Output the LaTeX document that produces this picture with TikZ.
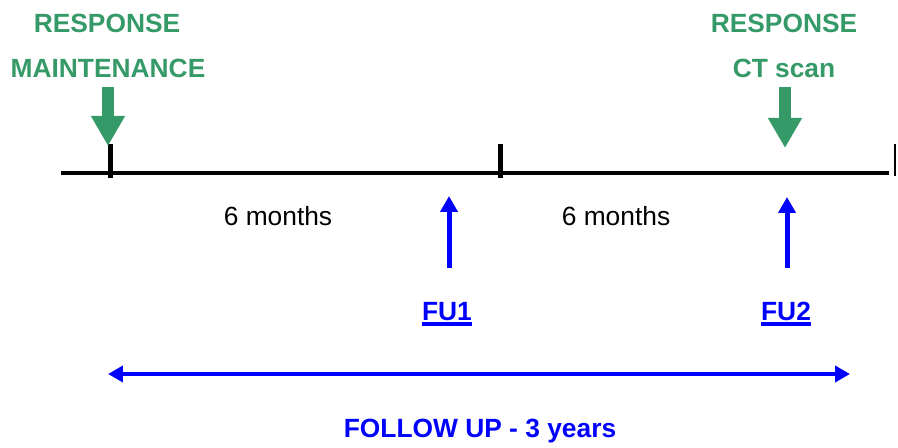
\documentclass[tikz,border=0pt]{standalone}
\usepackage{fontspec}
\setmainfont{Liberation Sans}
\usetikzlibrary{arrows.meta}
\definecolor{respgreen}{RGB}{54,154,104}
\tikzset{
  resp/.style={text=respgreen,font=\fontsize{15}{18}\selectfont\bfseries,anchor=base,inner sep=0pt},
  period/.style={font=\fontsize{15}{18}\selectfont,anchor=base,inner sep=0pt},
  fulabel/.style={text=blue,font=\fontsize{15}{18}\selectfont\bfseries,anchor=base,inner sep=0pt},
  greenarrow/.style={respgreen,line width=0.24cm,-{Triangle[length=0.6cm,width=0.64cm]}},
  fuarrow/.style={blue,line width=0.1cm,-{Triangle[length=0.32cm,width=0.34cm]}},
  spanarrow/.style={blue,line width=0.08cm,{Triangle[length=0.3cm,width=0.32cm]}-{Triangle[length=0.3cm,width=0.32cm]}},
}
\begin{document}
\begin{tikzpicture}[x=0.02cm,y=-0.02cm]
\useasboundingbox (0,0) rectangle (898,448);
% timeline
\coordinate (tl) at (61,173);
\coordinate (tr) at (889,173);
\draw[line width=0.08cm] (tl) -- (tr);
\foreach \x/\name in {110/t0,500/t1}{
  \coordinate (\name top) at (\x,144);
  \coordinate (\name bot) at (\x,178);
  \draw[line width=0.1cm] (\name top) -- (\name bot);
}
\coordinate (t2top) at (895,144);
\coordinate (t2bot) at (895,176);
\draw[line width=0.04cm] (t2top) -- (t2bot);
% response labels
\node[resp] (r1) at (107,33) {RESPONSE};
\node[resp] (r1b) at (108,78) {MAINTENANCE};
\node[resp] (r2) at (784,33) {RESPONSE};
\node[resp] (r2b) at (784,78) {CT scan};
\coordinate (g1s) at (108,87);
\coordinate (g1e) at (108,146);
\coordinate (g2s) at (785,87);
\coordinate (g2e) at (785,148);
\draw[greenarrow] (g1s) -- (g1e);
\draw[greenarrow] (g2s) -- (g2e);
% periods
\node[period] (m1) at (278,226) {6 months};
\node[period] (m2) at (616,226) {6 months};
% follow up visits
\node[fulabel] (fu1) at (447,321) {FU1};
\node[fulabel] (fu2) at (786,321) {FU2};
\draw[blue,line width=0.08cm] ([yshift=-0.06cm]fu1.base west) -- ([yshift=-0.06cm]fu1.base east);
\draw[blue,line width=0.08cm] ([yshift=-0.06cm]fu2.base west) -- ([yshift=-0.06cm]fu2.base east);
\coordinate (a1s) at (449,268);
\coordinate (a1e) at (449,196);
\coordinate (a2s) at (787,268);
\coordinate (a2e) at (787,197);
\draw[fuarrow] (a1s) -- (a1e);
\draw[fuarrow] (a2s) -- (a2e);
% follow up span
\coordinate (sl) at (108,374);
\coordinate (sr) at (850,374);
\draw[spanarrow] (sl) -- (sr);
\node[fulabel] (span) at (480,438) {FOLLOW UP - 3 years};
\end{tikzpicture}
\end{document}
